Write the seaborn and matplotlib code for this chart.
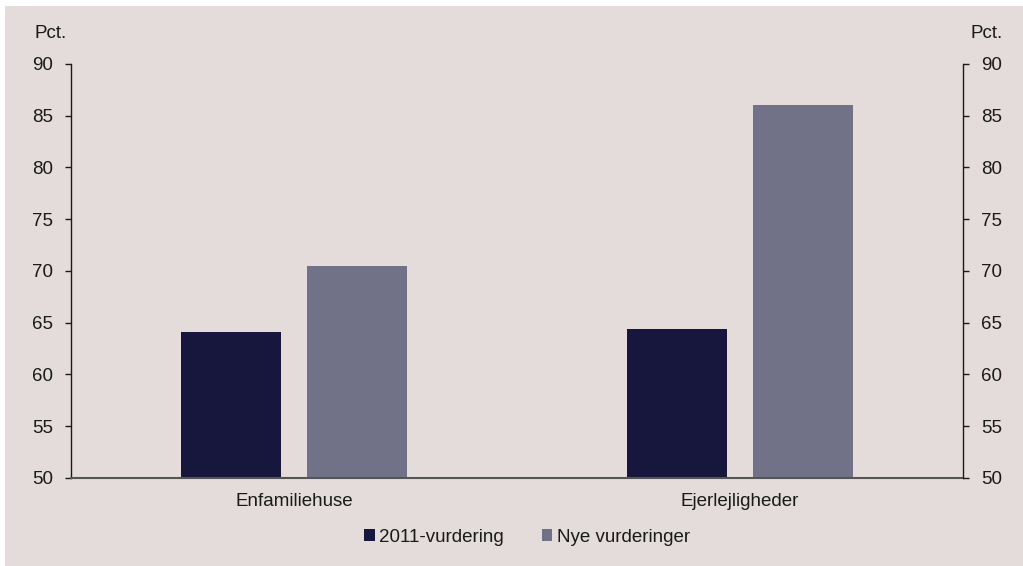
import matplotlib
matplotlib.use("Agg")
import matplotlib.pyplot as plt
import matplotlib.patches as mpatches
import seaborn as sns
import pandas as pd

# Data
categories = ["Enfamiliehuse", "Ejerlejligheder"]
series_names = ["2011-vurdering", "Nye vurderinger"]
values_2011 = [64.1, 64.4]
values_new = [70.5, 86.0]
y_ticks = [50, 55, 60, 65, 70, 75, 80, 85, 90]

BG = "#e3dcdb"
COLORS = ["#17173d", "#717188"]

sns.set_theme(style="white")
plt.rcParams["font.family"] = ["Liberation Sans", "DejaVu Sans"]
plt.rcParams["font.size"] = 13.5

df = pd.DataFrame({
    "Kategori": categories * 2,
    "Serie": [series_names[0]] * len(categories) + [series_names[1]] * len(categories),
    "Værdi": values_2011 + values_new,
})

fig = plt.figure(figsize=(10.23, 5.66), dpi=100)
fig.patch.set_facecolor("white")
fig.patches.append(mpatches.Rectangle((5 / 1023, 0), 1 - 5 / 1023, 1 - 6 / 566,
                                      transform=fig.transFigure, facecolor=BG,
                                      edgecolor="none", zorder=-10))

ax = fig.add_axes([71 / 1023, 1 - 478 / 566, (963 - 71) / 1023, (478 - 64) / 566])
ax.set_facecolor(BG)

sns.barplot(data=df, x="Kategori", y="Værdi", hue="Serie", palette=COLORS,
            width=0.565, gap=0.207, saturation=1, linewidth=0, ax=ax,
            legend=False)

ax.set_xlim(-0.5, 1.5)
ax.set_ylim(50, 90)
ax.set_yticks(y_ticks)
ax.set_xlabel("")
ax.set_ylabel("")

for side in ["top", "right"]:
    ax.spines[side].set_visible(False)
ax.spines["left"].set_color("#1a1a1a")
ax.spines["left"].set_linewidth(1.0)
ax.spines["bottom"].set_color("#555555")
ax.spines["bottom"].set_linewidth(1.5)

ax.tick_params(axis="y", which="major", direction="out", length=4, width=1,
               color="#1a1a1a", pad=9, labelsize=13.5, labelcolor="#1a1a1a")
ax.tick_params(axis="x", which="major", length=0, pad=11, labelsize=13.5,
               labelcolor="#1a1a1a")
ax.set_xticks([-0.5, 0.5, 1.5], minor=True)
ax.tick_params(axis="x", which="minor", direction="out", length=4, width=1,
               color="#333333")

# Right-hand axis mirroring the left scale
ax2 = ax.twinx()
ax2.set_ylim(50, 90)
ax2.set_yticks(y_ticks)
for side in ["top", "left", "bottom"]:
    ax2.spines[side].set_visible(False)
ax2.spines["right"].set_color("#1a1a1a")
ax2.spines["right"].set_linewidth(1.0)
ax2.tick_params(axis="y", direction="out", length=4, width=1, color="#1a1a1a",
                pad=9, labelsize=13.5, labelcolor="#1a1a1a")

fig.text(35 / 1023, 1 - 34 / 566, "Pct.", ha="left", va="center",
         fontsize=13.5, color="#1a1a1a")
fig.text(970 / 1023, 1 - 34 / 566, "Pct.", ha="left", va="center",
         fontsize=13.5, color="#1a1a1a")

handles = [mpatches.Patch(facecolor=c, edgecolor="none", label=n)
           for c, n in zip(COLORS, series_names)]
fig.legend(handles=handles, loc="center", bbox_to_anchor=(527 / 1023, 1 - 537 / 566),
           ncol=2, frameon=False, fontsize=13.5, handlelength=0.55,
           handleheight=0.6, handletextpad=0.25, columnspacing=2.0,
           labelcolor="#1a1a1a")

fig.savefig("out.png", dpi=100, facecolor=fig.get_facecolor())
